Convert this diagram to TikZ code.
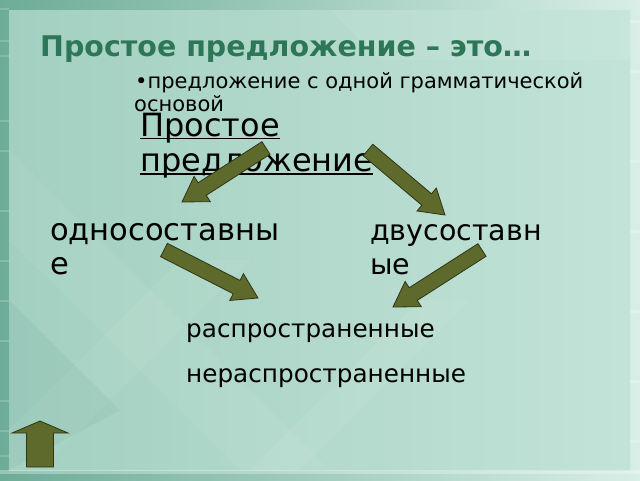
\documentclass[tikz,border=0pt]{standalone}
\usepackage{fontspec}
\setmainfont{DejaVu Sans}
\usetikzlibrary{calc}
\definecolor{frameL}{HTML}{6DAC98}
\definecolor{frameR}{HTML}{D8EEE7}
\definecolor{panelL}{HTML}{A2D0C0}
\definecolor{panelR}{HTML}{C3E3D8}
\definecolor{titlegreen}{HTML}{2E7658}
\definecolor{olive}{HTML}{5E6A2C}
\definecolor{olivedark}{HTML}{2E3516}
\tikzset{
  blockarrow/.style={fill=olive, draw=olivedark, line width=0.8pt, line join=miter},
  txt/.style={anchor=base west, inner sep=0pt, text=black},
  uline/.style={line width=1.4pt, black},
}
\newcommand\blockarr[5]{%
  \coordinate (#1-#2-b) at ($(#2)!#5!(#1)$);
  \draw[blockarrow] ($(#1)!#3!90:(#2)$) -- ($(#1-#2-b)!#3!90:(#2)$)
     -- ($(#1-#2-b)!#4!90:(#2)$) -- (#2) -- ($(#1-#2-b)!#4!-90:(#2)$)
     -- ($(#1-#2-b)!#3!-90:(#2)$) -- ($(#1)!#3!-90:(#2)$) -- cycle;}
\begin{document}
\begin{tikzpicture}[x=1pt,y=-1pt]
\useasboundingbox (0,0) rectangle (640,480);
% background frame
\fill[left color=frameL, right color=frameR] (0,0) rectangle (640,480);
\foreach \yy in {8,40,55,120,150,210,260,300,340,400,430,455}
  \fill[white, opacity=0.18] (0,\yy) rectangle (9,\yy+2);
\foreach \yy in {20,70,160,230,310,380,440}
  \fill[white, opacity=0.25] (630,\yy) rectangle (640,\yy+3);
% inner panel
\fill[left color=panelL, right color=panelR] (9,10) rectangle (630,470);
% faint diagonal lattice
\begin{scope}
\clip (9,10) rectangle (630,470);
\fill[white, opacity=0.06] (9,240) -- (240,470) -- (330,470) -- (9,150) -- cycle;
\fill[white, opacity=0.05] (9,430) -- (180,260) -- (250,260) -- (40,470) -- (9,470) -- cycle;
\fill[white, opacity=0.06] (250,470) -- (420,300) -- (470,300) -- (300,470) -- cycle;
\fill[white, opacity=0.08] (330,10) -- (640,10) -- (640,60) -- (380,60) -- cycle;
\fill[black!40!teal, opacity=0.05] (9,300) -- (120,410) -- (9,470) -- cycle;
\end{scope}
\fill[white, opacity=0.3] (0,470) rectangle (640,474);
% texts
\node[txt, text=titlegreen, font=\bfseries\fontsize{28.5}{33}\selectfont] (title) at (40,56) {Простое предложение – это…};
\node[txt, font=\fontsize{21}{25}\selectfont] (def1) at (135,88) {•предложение с одной грамматической};
\node[txt, font=\fontsize{21}{25}\selectfont] (def2) at (134,111) {основой};
\node[txt, font=\fontsize{32}{37}\selectfont] (pp1) at (140,136) {Простое};
\node[txt, font=\fontsize{32}{37}\selectfont] (pp2) at (140,171) {предложение};
\draw[uline] ($(pp1.base west)+(0,2.5)$) -- ($(pp1.base east)+(0,2.5)$);
\draw[uline] ($(pp2.base west)+(0,3)$) -- ($(pp2.base east)+(0,3)$);
\node[txt, font=\fontsize{30.5}{35}\selectfont] (one1) at (50,240) {односоставны};
\node[txt, font=\fontsize{30.5}{35}\selectfont] (one2) at (50,274) {е};
\node[txt, font=\fontsize{28.5}{34}\selectfont] (two1) at (370,240) {двусоставн};
\node[txt, font=\fontsize{28.5}{34}\selectfont] (two2) at (370,274) {ые};
\node[txt, font=\fontsize{24.7}{29}\selectfont] (ext) at (186,337) {распространенные};
\node[txt, font=\fontsize{24.7}{29}\selectfont] (next) at (186,382) {нераспространенные};
% arrows
\coordinate (a1t) at (266,148); \coordinate (a1h) at (182,202);
\coordinate (a2t) at (368,150); \coordinate (a2h) at (445,215);
\coordinate (a3t) at (164,250); \coordinate (a3h) at (258,298);
\coordinate (a4t) at (482,250); \coordinate (a4h) at (393,307);
\coordinate (upt) at (40,467);  \coordinate (uph) at (40,421);
\blockarr{a1t}{a1h}{7.5pt}{15pt}{24pt}
\blockarr{a2t}{a2h}{7.5pt}{15pt}{24pt}
\blockarr{a3t}{a3h}{7.5pt}{15pt}{24pt}
\blockarr{a4t}{a4h}{7.5pt}{15pt}{24pt}
\blockarr{upt}{uph}{13.5pt}{28pt}{12pt}
\end{tikzpicture}
\end{document}
